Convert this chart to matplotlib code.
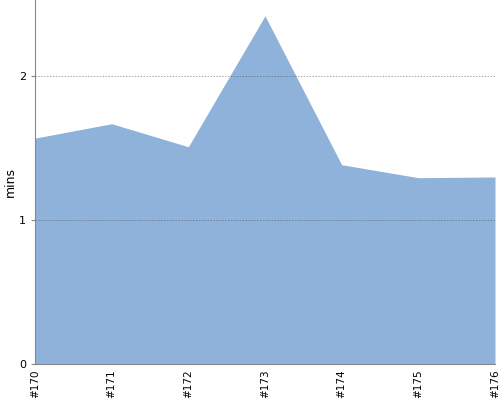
import matplotlib.pyplot as plt

builds = ['#170', '#171', '#172', '#173', '#174', '#175', '#176']
mins = [1.57, 1.67, 1.51, 2.42, 1.385, 1.295, 1.30]

fig = plt.figure(figsize=(5, 4), dpi=100)
ax = fig.add_axes([0.07, 0.09, 0.92, 0.91])

x = range(len(builds))
ax.fill_between(x, mins, 0, color='#8fb2da', linewidth=0, zorder=1)

ax.set_xlim(0, len(builds) - 1)
ax.set_ylim(0, 2.53)
ax.set_yticks([0, 1, 2])
ax.set_xticks(list(x))
ax.set_xticklabels(builds, rotation=90, fontsize=7.5)
ax.tick_params(axis='y', labelsize=8, length=3, color='#888888')
ax.tick_params(axis='x', length=0, pad=4)
ax.set_ylabel('mins', fontsize=9, va='center')
ax.yaxis.set_label_coords(-0.054, 0.5)

ax.grid(axis='y', linestyle=(0, (1.5, 1.5)), color='#555555', alpha=0.5, linewidth=0.7, zorder=2)
ax.set_axisbelow(False)
for s in ['top', 'right']:
    ax.spines[s].set_visible(False)
for s in ['left', 'bottom']:
    ax.spines[s].set_color('#888888')

fig.savefig('out.png')
